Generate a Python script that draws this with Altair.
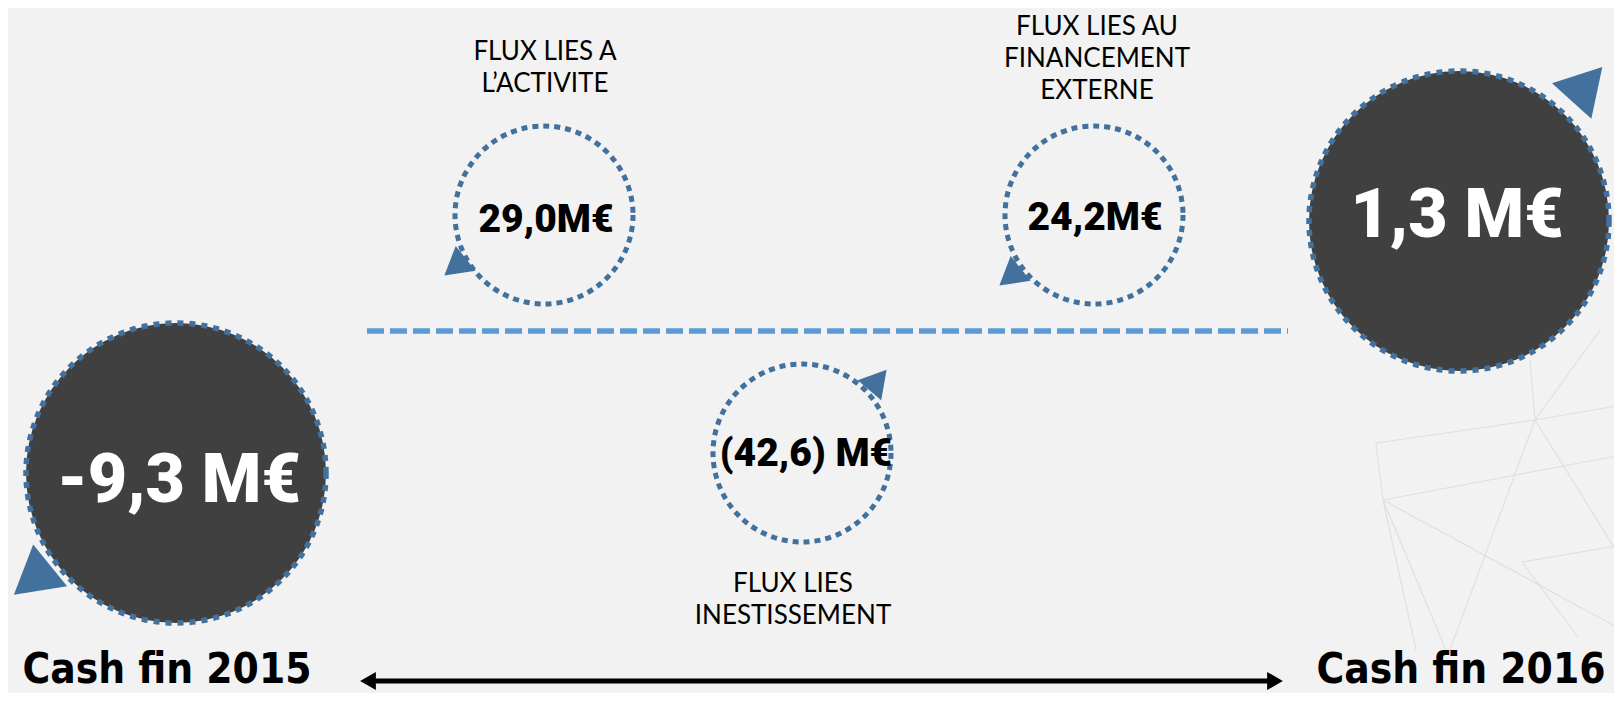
import altair as alt
import pandas as pd

# ---------------- values (text content) ----------------
start_label = "Cash fin 2015"
end_label = "Cash fin 2016"
start_value = "-9,3 M€"
end_value = "1,3 M€"
flow_values = ["29,0M€", "24,2M€", "(42,6) M€"]
flow_labels = ["FLUX LIES A\nL’ACTIVITE",
               "FLUX LIES AU\nFINANCEMENT\nEXTERNE",
               "FLUX LIES\nINESTISSEMENT"]

# ---------------- layout (reference pixel positions) ----------------
W, H = 1606, 685
flow_cx = [544, 1094, 802]
flow_cy = [215, 215, 453]
flow_val_base = [232, 230, 466]
flow_val_x = [546, 1095, 806]
flow_lab_x = [545, 1097, 793]
flow_lab_base = [60, 35, 592]
big_cx = [176, 1459]
big_cy = [473, 221]
big_val_x = [179, 1457]
big_val_base = [502, 237]
cash_x = [167, 1461]
cash_base = [683, 683]
tri_x = [32, 1587, 455, 1010, 878]
tri_y = [580, 84, 267, 277, 380]
tri_angle = [231, 42, 231, 231, 40]
tri_size = [2900, 2800, 1000, 1000, 950]
net_x = [1376, 1535, 1376, 1383, 1383, 1535, 1535, 1383, 1383, 1522, 1522, 1535, 1600]
net_y = [443, 420, 443, 500, 500, 420, 420, 500, 500, 562, 562, 420, 330]
net_x2 = [1535, 1622, 1383, 1622, 1622, 1622, 1450, 1416, 1446, 1622, 1578, 1530, 1535]
net_y2 = [420, 405, 500, 455, 630, 560, 650, 650, 650, 545, 637, 360, 420]

xs = alt.Scale(domain=[8, 8 + W], nice=False, zero=False)
ys = alt.Scale(domain=[8, 8 + H], nice=False, zero=False, reverse=True)

def X(f="x"):
    return alt.X(f"{f}:Q", scale=xs, axis=None)

def Y(f="y"):
    return alt.Y(f"{f}:Q", scale=ys, axis=None)

RING = "#41719c"
VALUE_FONT = "Roboto"

net = pd.DataFrame({"x": net_x, "y": net_y, "x2": net_x2, "y2": net_y2})
net_layer = alt.Chart(net).mark_rule(color="#e0e0e0", strokeWidth=1.2).encode(
    x=X(), y=Y(), x2="x2:Q", y2="y2:Q")

dash = pd.DataFrame({"x": [367], "x2": [1288], "y": [331]})
dash_layer = alt.Chart(dash).mark_rule(color="#5b9bd5", strokeWidth=5.5,
                                       strokeDash=[17, 6], strokeCap="butt").encode(
    x=X(), x2="x2:Q", y=Y())

arrow = pd.DataFrame({"x": [368], "x2": [1275], "y": [681]})
arrow_layer = alt.Chart(arrow).mark_rule(color="black", strokeWidth=5).encode(
    x=X(), x2="x2:Q", y=Y())
heads = pd.DataFrame({"x": [368, 1275], "y": [681, 681], "shape": ["triangle-left", "triangle-right"]})
heads_layer = alt.Chart(heads).mark_point(filled=True, color="black", opacity=1, size=330).encode(
    x=X(), y=Y(), shape=alt.Shape("shape:N", scale=None))

flows = pd.DataFrame({"x": flow_cx, "y": flow_cy, "vx": flow_val_x, "vy": flow_val_base,
                      "lx": flow_lab_x, "ly": flow_lab_base,
                      "value": flow_values, "label": flow_labels})
rings = alt.Chart(flows).mark_point(shape="circle", filled=False, stroke=RING, strokeWidth=5,
                                    strokeDash=[6, 5], opacity=1, size=178 * 178).encode(x=X(), y=Y())
flow_vals = alt.Chart(flows).mark_text(font=VALUE_FONT, fontWeight=900,
                                       fontSize=39, color="black", align="center",
                                       baseline="alphabetic").encode(
    x=X("vx"), y=Y("vy"), text="value:N")
flow_labs = alt.Chart(flows).mark_text(font="Lato", fontSize=26, color="black", align="center",
                                       baseline="alphabetic", lineBreak="\n", lineHeight=32).encode(
    x=X("lx"), y=Y("ly"), text="label:N")

big = pd.DataFrame({"x": big_cx, "y": big_cy, "vx": big_val_x, "vy": big_val_base,
                    "value": [start_value, end_value], "cx": cash_x, "cy": cash_base,
                    "cash": [start_label, end_label]})
big_circ = alt.Chart(big).mark_point(shape="circle", filled=True, fill="#404040", stroke=RING,
                                     strokeWidth=5.5, strokeDash=[6, 6], opacity=1,
                                     size=300 * 300).encode(x=X(), y=Y())
big_vals = alt.Chart(big).mark_text(font=VALUE_FONT, fontWeight=900, fontSize=68,
                                    color="white", align="center", baseline="alphabetic").encode(
    x=X("vx"), y=Y("vy"), text="value:N")
cash_txt = alt.Chart(big).mark_text(font="DejaVu Sans Condensed", fontWeight="bold", fontSize=42,
                                    color="black", align="center", baseline="alphabetic").encode(
    x=X("cx"), y=Y("cy"), text="cash:N")

tris = pd.DataFrame({"x": tri_x, "y": tri_y, "angle": tri_angle, "size": tri_size})
tri_layer = alt.Chart(tris).mark_point(shape="triangle-up", filled=True, color=RING, opacity=1).encode(
    x=X(), y=Y(), angle=alt.Angle("angle:Q", scale=None), size=alt.Size("size:Q", scale=None))

chart = alt.layer(net_layer, dash_layer, arrow_layer, heads_layer, rings, big_circ, tri_layer,
                  flow_vals, flow_labs, big_vals, cash_txt).properties(
    width=W, height=H, padding=0, autosize=alt.AutoSizeParams(type="none"),
    background="#f2f2f2").configure_view(stroke=None)

chart.save("out.html", embed_options={"renderer": "svg", "actions": False})
